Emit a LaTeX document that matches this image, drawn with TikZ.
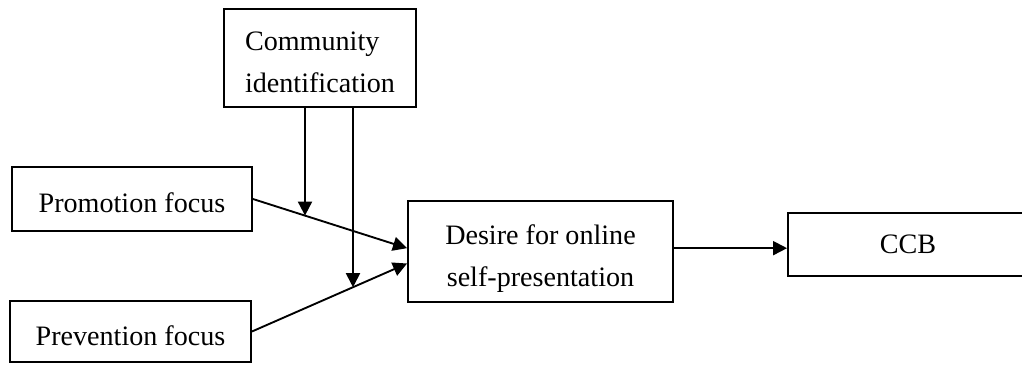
\documentclass[tikz,border=0pt]{standalone}
\usepackage{fontspec}
\setmainfont{Liberation Serif}
\usepackage{tikz}
\usetikzlibrary{arrows.meta}

\begin{document}
\begin{tikzpicture}[x=0.015cm, y=-0.015cm,
  box/.style = {draw, line width=0.8pt, rectangle, inner sep=0pt, text depth=0pt,
                font=\fontsize{12}{18}\selectfont},
  oneline/.style = {box, text height=11.6pt},
  twoline/.style = {box, text height=29.6pt},
  link/.style = {line width=0.8pt, -{Triangle[length=6pt,width=6pt]}}]
\useasboundingbox (0,0) rectangle (1022,365);

\node[twoline, align=left, minimum width=2.88cm, minimum height=1.47cm] (comm) at (320,58) {Community\\identification};
\node[oneline, minimum width=3.6cm, minimum height=0.96cm] (promo) at (132,199) {Promotion focus};
\node[oneline, minimum width=3.615cm, minimum height=0.915cm] (prev) at (130.5,331.5) {Prevention focus};
\node[twoline, align=center, minimum width=3.975cm, minimum height=1.515cm] (desire) at (540.5,251.5) {Desire for online\\self-presentation};
\node[box, minimum width=3.6cm, minimum height=0.945cm] (ccb) at (908,244.5) {CCB};

\coordinate (d1) at ([yshift=0.05cm]desire.west);
\coordinate (d2) at ([yshift=-0.18cm]desire.west);
\coordinate (e1) at ([yshift=0.05cm]desire.east);
\coordinate (c1) at ([xshift=-0.225cm]comm.south);
\coordinate (c2) at ([xshift=0.495cm]comm.south);
\coordinate (c1b) at (c1 |- prev.south);
\coordinate (c2b) at (c2 |- prev.south);
\coordinate (m1) at (intersection of promo.east--d1 and c1--c1b);
\coordinate (m2) at (intersection of prev.east--d2 and c2--c2b);

\draw[link] (promo.east) -- (d1);
\draw[link] (prev.east) -- (d2);
\draw[link] (c1) -- (m1);
\draw[link] (c2) -- (m2);
\draw[link] (e1) -- (e1 -| ccb.west);

\end{tikzpicture}
\end{document}
